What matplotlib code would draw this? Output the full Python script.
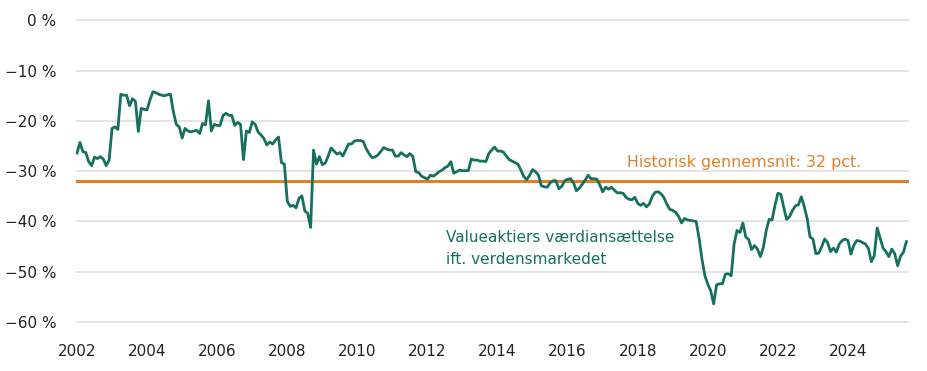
import matplotlib
matplotlib.use("Agg")
import matplotlib.pyplot as plt
import numpy as np

# Value stocks' valuation relative to the world market, monthly, Jan 2002 onwards (%)
v2002 = [-26.4, -24.3, -26.1, -26.3, -28.1, -28.9, -27.2, -27.5, -27.1, -27.6, -28.9, -27.8]
v2003 = [-21.5, -21.2, -21.7, -14.7, -14.9, -14.9, -17.0, -15.6, -16.1, -22.1, -17.5, -17.7]
v2004 = [-17.8, -15.8, -14.2, -14.4, -14.7, -14.9, -15.0, -14.8, -14.7, -18.2, -20.7, -21.2]
v2005 = [-23.4, -21.5, -22.0, -22.2, -22.0, -21.9, -22.5, -20.5, -20.8, -16.0, -22.0, -20.7]
v2006 = [-20.9, -20.9, -18.9, -18.5, -18.9, -18.9, -20.9, -20.3, -20.7, -27.7, -22.0, -22.3]
v2007 = [-20.2, -20.7, -22.2, -22.8, -23.5, -24.8, -24.2, -24.6, -23.8, -23.2, -28.3, -28.6]
v2008 = [-36.0, -37.0, -36.8, -37.3, -35.4, -34.9, -37.9, -38.4, -41.2, -25.8, -28.6, -27.1]
v2009 = [-28.7, -28.4, -27.0, -25.4, -26.0, -26.6, -26.3, -27.0, -25.8, -24.6, -24.6, -24.0]
v2010 = [-23.9, -23.9, -24.1, -25.5, -26.5, -27.3, -27.2, -26.8, -26.1, -25.3, -25.6, -25.8]
v2011 = [-25.8, -27.0, -27.0, -26.3, -26.8, -27.1, -26.5, -27.1, -30.1, -30.3, -31.0, -31.3]
v2012 = [-31.6, -30.8, -31.0, -30.6, -30.1, -29.8, -29.3, -29.0, -28.1, -30.4, -30.1, -29.8]
v2013 = [-29.9, -29.9, -29.9, -27.6, -27.8, -27.8, -28.0, -28.0, -28.1, -26.5, -25.8, -25.2]
v2014 = [-26.0, -26.0, -26.2, -27.0, -27.7, -28.0, -28.3, -28.6, -29.8, -31.1, -31.7, -30.8]
v2015 = [-29.7, -30.1, -30.8, -32.9, -33.1, -33.2, -32.3, -31.9, -31.9, -33.5, -33.0, -31.9]
v2016 = [-31.6, -31.5, -32.3, -33.9, -33.4, -32.6, -31.8, -30.8, -31.5, -31.5, -31.6, -32.7]
v2017 = [-34.1, -33.2, -33.6, -33.2, -33.8, -34.3, -34.3, -34.4, -35.2, -35.6, -35.7, -35.2]
v2018 = [-36.4, -36.8, -36.4, -37.1, -36.5, -35.0, -34.2, -34.1, -34.5, -35.3, -36.6, -37.6]
v2019 = [-37.8, -38.2, -39.0, -40.3, -39.4, -39.7, -39.8, -39.9, -40.0, -43.3, -47.5, -50.8]
v2020 = [-52.5, -53.8, -56.4, -52.6, -52.4, -52.4, -50.5, -50.4, -50.8, -44.5, -41.8, -42.2]
v2021 = [-40.3, -43.1, -43.6, -45.6, -44.8, -45.5, -47.0, -45.2, -41.8, -39.6, -39.7, -36.8]
v2022 = [-34.4, -34.6, -37.2, -39.6, -39.0, -37.8, -36.9, -36.7, -35.1, -37.0, -39.4, -43.1]
v2023 = [-43.5, -46.4, -46.3, -45.0, -43.5, -44.2, -46.0, -45.3, -46.1, -44.5, -43.8, -43.5]
v2024 = [-43.8, -46.5, -44.7, -43.8, -43.9, -44.2, -44.5, -45.4, -48.0, -46.8, -41.3, -43.3]
v2025 = [-45.3, -46.0, -47.0, -45.5, -46.4, -48.8, -46.9, -46.1, -44.0]

values = (v2002 + v2003 + v2004 + v2005 + v2006 + v2007 + v2008 + v2009 + v2010
          + v2011 + v2012 + v2013 + v2014 + v2015 + v2016 + v2017 + v2018 + v2019
          + v2020 + v2021 + v2022 + v2023 + v2024 + v2025)
start_year = 2002
dates = start_year + np.arange(len(values)) / 12

hist_avg = -32
x_ticks = list(range(2002, 2025, 2))
y_ticks = [0, -10, -20, -30, -40, -50, -60]

GREEN = "#16705f"
ORANGE = "#dc8226"
GRID = "#dcdcdc"
TXT = "#222222"

plt.rcParams["font.family"] = ["DejaVu Sans"]

fig = plt.figure(figsize=(9.28, 3.71), dpi=100)
ax = fig.add_axes([0.0819, 0.128, 0.8976, 0.8213])

ax.plot(dates, values, color=GREEN, lw=2.0, zorder=3, solid_joinstyle="round")
ax.axhline(hist_avg, color=ORANGE, lw=2.2, zorder=2)

ax.set_xlim(2002 - 1 / 35, 2025.74)
ax.set_ylim(-60.3, 0.3)
ax.set_yticks(y_ticks)
ax.set_yticklabels([f"{v} %".replace("-", "\u2212") for v in y_ticks])
ax.set_xticks(x_ticks)
ax.set_xticklabels([str(y) for y in x_ticks])
ax.grid(axis="y", color=GRID, lw=1.1, zorder=0)
ax.tick_params(axis="both", length=0, labelsize=11, colors=TXT)
ax.tick_params(axis="y", pad=14)
ax.tick_params(axis="x", pad=15)
for s in ax.spines.values():
    s.set_visible(False)

ax.text(2017.7, -28.3, "Historisk gennemsnit: 32 pct.", color=ORANGE,
        fontsize=11.4, ha="left", va="center")
ax.text(2012.53, -45.4, "Valueaktiers værdiansættelse\nift. verdensmarkedet",
        color=GREEN, fontsize=11, ha="left", va="center", linespacing=1.6)

fig.savefig("out.png", dpi=100)
